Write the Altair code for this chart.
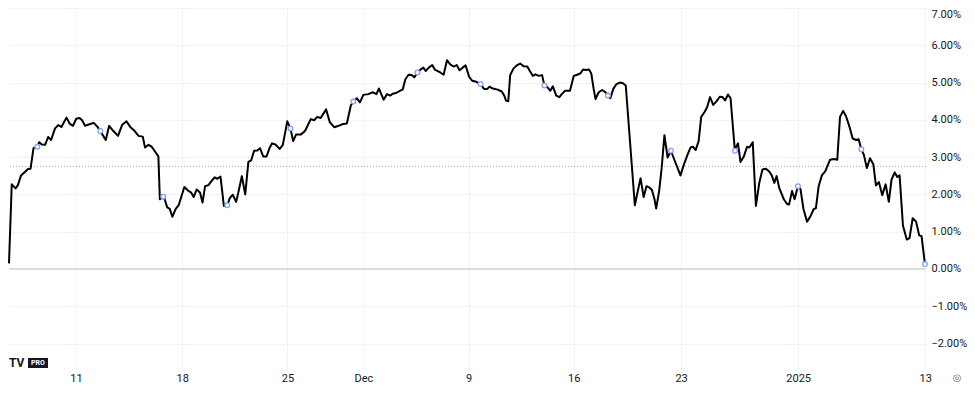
import altair as alt
import pandas as pd

# time axis: trading days since the first bar (intraday, session hours only)
t_days = [
    0.00, 0.13, 0.31, 0.42, 0.57, 0.75, 0.90, 1.02, 1.16, 1.34, 1.43, 1.55, 1.71, 1.85, 1.99,
    2.18, 2.33, 2.48, 2.72, 2.87, 3.03, 3.18, 3.34, 3.46, 3.60, 3.81, 4.01, 4.19, 4.32, 4.46,
    4.58, 4.74, 4.94, 5.16, 5.36, 5.56, 5.74, 5.95, 6.13, 6.33, 6.44, 6.60, 6.75, 6.91, 7.07,
    7.14, 7.33, 7.49, 7.61, 7.73, 7.89, 8.03, 8.30, 8.46, 8.62, 8.74, 8.88, 9.04, 9.16, 9.28,
    9.44, 9.59, 9.73, 9.86, 10.01, 10.17, 10.33, 10.45, 10.59, 10.75, 10.87, 11.02, 11.18, 11.33, 11.46,
    11.60, 11.75, 11.88, 12.03, 12.19, 12.32, 12.45, 12.61, 12.81, 12.96, 13.17, 13.32, 13.45, 13.59, 13.82,
    14.01, 14.28, 14.44, 14.59, 14.75, 15.01, 15.18, 15.40, 15.60, 15.76, 15.99, 16.18, 16.30, 16.46, 16.61,
    16.77, 17.00, 17.23, 17.39, 17.51, 17.62, 17.73, 17.89, 18.04, 18.16, 18.32, 18.50, 18.63, 18.76, 18.91,
    19.06, 19.18, 19.33, 19.48, 19.61, 19.72, 19.87, 20.03, 20.15, 20.41, 20.57, 20.73, 20.88, 21.04, 21.19,
    21.32, 21.47, 21.61, 21.78, 21.92, 22.12, 22.32, 22.48, 22.64, 22.74, 22.90, 23.13, 23.32, 23.44, 23.52,
    23.63, 23.72, 23.88, 24.03, 24.19, 24.35, 24.53, 24.65, 24.79, 24.92, 25.07, 25.23, 25.34, 25.49, 25.62,
    25.74, 25.90, 26.05, 26.16, 26.32, 26.55, 26.73, 26.89, 27.05, 27.17, 27.29, 27.45, 27.56, 27.67, 27.76,
    27.91, 28.07, 28.23, 28.35, 28.46, 28.60, 28.75, 28.91, 29.06, 29.19, 29.62, 29.76, 29.89, 30.04, 30.17,
    30.32, 30.43, 30.55, 30.63, 30.77, 30.89, 31.02, 31.17, 31.33, 31.49, 31.64, 31.78, 31.94, 32.11, 32.26,
    32.37, 32.50, 32.64, 32.76, 32.92, 33.04, 33.18, 33.33, 33.49, 33.64, 33.77, 33.89, 34.03, 34.15, 34.35,
    34.50, 34.62, 34.78, 34.93, 35.04, 35.20, 35.35, 35.51, 35.66, 35.82, 35.97, 36.10, 36.22, 36.33, 36.46,
    36.67, 36.83, 36.92, 37.06, 37.18, 37.34, 37.46, 37.60, 37.77, 37.93, 38.09, 38.19, 38.32, 38.47, 38.63,
    38.86, 39.05, 39.20, 39.33, 39.48, 39.62, 39.78, 39.93, 40.09, 40.21, 40.34, 40.46, 40.60, 40.75, 40.91,
    41.03, 41.17, 41.33, 41.49, 41.64, 41.77, 41.92, 42.04, 42.15, 42.31, 42.49, 42.62, 42.77, 42.93, 43.08,
    43.19, 43.35,
]

# percent change
pct = [
    0.15, 2.27, 2.16, 2.25, 2.51, 2.60, 2.68, 2.69, 3.24, 3.28, 3.40, 3.34, 3.33, 3.54, 3.46,
    3.77, 3.86, 3.81, 4.06, 3.90, 3.84, 4.03, 4.05, 3.99, 3.84, 3.88, 3.92, 3.81, 3.70, 3.57,
    3.46, 3.84, 3.70, 3.57, 3.87, 3.96, 3.81, 3.70, 3.57, 3.55, 3.26, 3.33, 3.28, 3.15, 3.02,
    1.87, 1.94, 1.65, 1.61, 1.40, 1.61, 1.71, 2.20, 2.11, 2.05, 1.93, 2.13, 2.05, 1.78, 2.22,
    2.25, 2.36, 2.46, 2.42, 2.48, 1.69, 1.71, 1.90, 1.99, 1.80, 2.09, 2.49, 2.00, 2.87, 2.91,
    3.17, 3.18, 3.24, 3.02, 3.02, 3.23, 3.37, 3.34, 3.22, 3.33, 3.96, 3.77, 3.43, 3.61, 3.61,
    3.70, 4.02, 3.99, 4.08, 4.05, 4.28, 3.94, 3.80, 3.84, 3.88, 3.90, 4.39, 4.49, 4.58, 4.47,
    4.67, 4.69, 4.74, 4.69, 4.84, 4.69, 4.54, 4.69, 4.65, 4.70, 4.72, 4.78, 4.81, 5.09, 5.21,
    5.20, 5.14, 5.27, 5.35, 5.40, 5.31, 5.40, 5.47, 5.35, 5.27, 5.21, 5.60, 5.49, 5.43, 5.47,
    5.33, 5.40, 5.46, 5.15, 5.05, 5.02, 4.96, 4.83, 4.83, 4.89, 4.84, 4.81, 4.76, 4.65, 4.52,
    4.50, 5.20, 5.38, 5.46, 5.51, 5.44, 5.43, 5.31, 5.18, 5.22, 5.18, 5.20, 4.92, 4.87, 4.78,
    4.90, 4.65, 4.61, 4.69, 4.78, 4.78, 5.18, 5.21, 5.25, 5.35, 5.34, 5.35, 5.24, 4.83, 4.56,
    4.74, 4.80, 4.74, 4.65, 4.58, 4.83, 4.96, 5.00, 4.98, 4.92, 1.71, 2.09, 2.43, 1.93, 2.22,
    2.18, 2.12, 1.87, 1.62, 2.09, 2.71, 3.59, 2.99, 3.17, 2.93, 2.71, 2.51, 2.80, 3.06, 3.26,
    3.28, 3.19, 3.43, 4.08, 4.21, 4.34, 4.61, 4.40, 4.50, 4.62, 4.61, 4.52, 4.68, 4.58, 3.20,
    3.37, 2.87, 3.02, 3.28, 3.26, 3.40, 1.69, 2.31, 2.67, 2.69, 2.62, 2.51, 2.31, 2.49, 2.16,
    1.87, 1.74, 1.73, 2.09, 1.87, 2.22, 2.14, 1.61, 1.27, 1.41, 1.61, 1.63, 2.22, 2.51, 2.62,
    2.93, 2.95, 2.93, 4.08, 4.24, 4.09, 3.81, 3.50, 3.46, 3.48, 3.21, 3.06, 2.71, 2.97, 2.80,
    2.24, 2.33, 1.98, 2.27, 1.80, 2.40, 2.59, 2.47, 2.51, 1.16, 0.79, 0.83, 1.36, 1.27, 0.90,
    0.88, 0.13,
]

marker_t = [1.34, 4.32, 7.30, 10.33, 13.32, 16.30, 19.33, 22.32, 25.34, 28.35, 31.33, 34.36, 37.34, 40.34, 43.35]
marker_pct = [3.28, 3.70, 1.94, 1.71, 3.77, 4.49, 5.27, 4.96, 4.92, 4.65, 3.17, 3.17, 2.22, 3.21, 0.13]

tick_t = [3.17, 8.20, 13.18, 16.77, 21.75, 26.73, 31.81, 37.35, 43.36]
tick_labels = ["11", "18", "25", "Dec", "9", "16", "23", "2025", "13"]
y_ticks = [-2, -1, 0, 1, 2, 3, 4, 5, 6, 7]
ref_level = [2.75]
zero_level = [0]

df = pd.DataFrame({"t": t_days, "pct": pct})
mk = pd.DataFrame({"t": marker_t, "pct": marker_pct})

FONT = "Roboto"
TXT = "#131722"
GRID = "#f0f3fa"

xscale = alt.Scale(domain=[0, 43.40], nice=False, zero=False)
yscale = alt.Scale(domain=[-2.71, 7.0], nice=False, zero=False)

x_label_expr = (
    "[" + ",".join("'%s'" % s for s in tick_labels) + "][indexof(["
    + ",".join(str(v) for v in tick_t) + "], datum.value)]"
)
y_label_expr = "(datum.value < 0 ? '\u2212' : '') + format(abs(datum.value), '.2f') + '%'"

xaxis = alt.Axis(
    values=tick_t, labelExpr=x_label_expr, grid=True, gridColor=GRID, gridWidth=1,
    domain=False, ticks=False, labelFlush=False, labelPadding=2, labelFontSize=11,
    labelColor=TXT, labelFont=FONT, title=None, labelOverlap=False,
)
yaxis = alt.Axis(
    orient="right", values=y_ticks, labelExpr=y_label_expr, grid=True, gridColor=GRID,
    gridWidth=1, domain=False, ticks=False, labelFlush=True, labelPadding=5,
    labelFontSize=11, labelColor=TXT, labelFont=FONT, title=None, labelOverlap=False,
)

zero_rule = alt.Chart(pd.DataFrame({"pct": zero_level})).mark_rule(
    color="#c9cbd1", strokeWidth=1.2
).encode(y=alt.Y("pct:Q", scale=yscale, axis=yaxis))

ref_rule = alt.Chart(pd.DataFrame({"pct": ref_level})).mark_rule(
    color="#a3a6af", strokeWidth=1, strokeDash=[1, 2]
).encode(y=alt.Y("pct:Q", scale=yscale, axis=yaxis))

line = alt.Chart(df).mark_line(color="#000000", strokeWidth=2, strokeJoin="round").encode(
    x=alt.X("t:Q", scale=xscale, axis=xaxis),
    y=alt.Y("pct:Q", scale=yscale, axis=yaxis),
)

markers = alt.Chart(mk).mark_point(
    shape="circle", fill="white", fillOpacity=1, stroke="#7f9ff2", strokeWidth=1.3,
    size=22, opacity=1,
).encode(
    x=alt.X("t:Q", scale=xscale, axis=xaxis),
    y=alt.Y("pct:Q", scale=yscale, axis=yaxis),
)

logo_box = alt.Chart(pd.DataFrame({"a": [0]})).mark_rect(color="#131722").encode(
    x=alt.value(19), x2=alt.value(39), y=alt.value(350), y2=alt.value(360)
)
logo_tv = alt.Chart(pd.DataFrame({"a": [0]})).mark_text(
    text="TV", font=FONT, fontSize=12, fontWeight="bold", color="#131722", align="left",
    baseline="middle",
).encode(x=alt.value(0), y=alt.value(355))
logo_pro = alt.Chart(pd.DataFrame({"a": [0]})).mark_text(
    text="PRO", font=FONT, fontSize=7, fontWeight="bold", color="white", align="center",
    baseline="middle",
).encode(x=alt.value(29), y=alt.value(355))
gear = alt.Chart(pd.DataFrame({"a": [0]})).mark_text(
    text="\u25ce", font="DejaVu Sans", fontSize=10, color="#6a6d78", align="center",
    baseline="middle",
).encode(x=alt.value(948), y=alt.value(370))

chart = alt.layer(zero_rule, ref_rule, line, markers, logo_box, logo_tv, logo_pro, gear).properties(
    width=917, height=362, padding=0, background="white"
).configure_view(stroke=None)

chart.save("out.html", embed_options={"renderer": "svg", "actions": False})
